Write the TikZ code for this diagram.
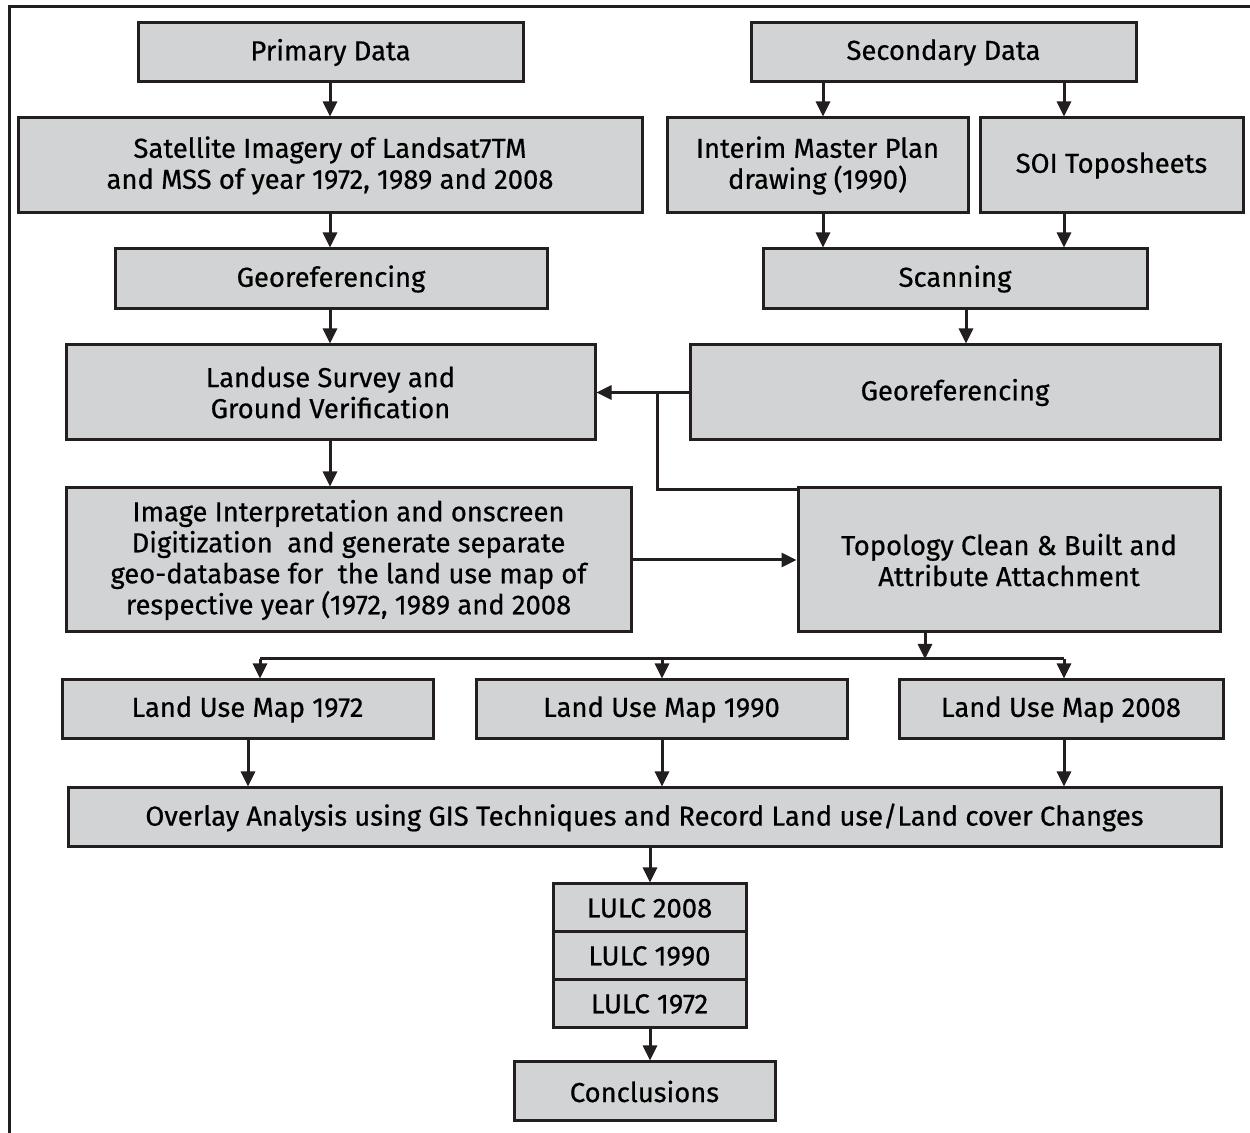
\documentclass[tikz,border=0pt]{standalone}
\usepackage{fontspec}
\setmainfont{Fira Sans}
\newfontfamily\boxfont[FakeBold=0.6]{Fira Sans}
\usetikzlibrary{arrows.meta}
\definecolor{boxgray}{RGB}{209,211,212}
\definecolor{inkblack}{RGB}{35,31,32}
\tikzset{
  box/.style={draw=inkblack, fill=boxgray, line width=1.5pt, inner sep=0pt,
    align=center, font=\boxfont\fontsize{13.7}{15.5}\selectfont},
  bw/.style={minimum width=#1*0.5pt},
  bh/.style={minimum height=#1*0.5pt},
  arr/.style={draw=inkblack, line width=1.5pt, -{Triangle[length=7.5pt,width=7pt]}},
  link/.style={draw=inkblack, line width=1.5pt}
}
\begin{document}
\begin{tikzpicture}[x=0.5pt,y=-0.5pt]
	\useasboundingbox (0,0) rectangle (1250,1133);
	% frame
	\draw[link] (9,1133) -- (9,7) -- (1250,7);
	% data sources
	\node[box, bw=385, bh=59] (prim) at (330.5,52.5) {Primary Data};
	\node[box, bw=385, bh=59] (sec) at (943.5,52.5) {Secondary Data};
	\node[box, bw=624, bh=95] (sat) at (330,165.5) {Satellite Imagery of Landsat7TM\\and MSS of year 1972, 1989 and 2008};
	\node[box, bw=301, bh=95] (imp) at (817.5,165.5) {Interim Master Plan\\drawing (1990)};
	\node[box, bw=263, bh=95] (soi) at (1111.5,165.5) {SOI Toposheets};
	\node[box, bw=432, bh=60] (geol) at (331,279) {Georeferencing};
	\node[box, bw=384, bh=60] (scan) at (955,279) {Scanning};
	\node[box, bw=529, bh=95] (survey) at (330.5,392.5) {Landuse Survey and\\Ground Verification};
	\node[box, bw=530, bh=95] (geor) at (955,392.5) {Georeferencing};
	\node[box, bw=565, bh=144] (interp) at (348.5,560) {Image Interpretation and onscreen\\Digitization\ \ and generate separate\\geo-database for\ \ the land use map of\\respective year (1972, 1989 and 2008};
	\node[box, bw=422, bh=144] (topo) at (1009,560) {Topology Clean \& Built and\\Attribute Attachment};
	% maps
	\node[box, bw=371, bh=59] (mapA) at (247.5,709.5) {Land Use Map 1972};
	\node[box, bw=371, bh=59] (mapB) at (661.5,709.5) {Land Use Map 1990};
	\node[box, bw=324, bh=59] (mapC) at (1061,709.5) {Land Use Map 2008};
	\node[box, bw=1153, bh=59] (overlay) at (644.5,817.5) {Overlay Analysis using GIS Techniques and Record Land use/Land cover Changes};
	\node[box, bw=193, bh=48] (lulcA) at (649.5,908) {LULC 2008};
	\node[box, bw=193, bh=48] (lulcB) at (649.5,956) {LULC 1990};
	\node[box, bw=193, bh=48] (lulcC) at (649.5,1004) {LULC 1972};
	\node[box, bw=261, bh=59] (concl) at (644.5,1091.5) {Conclusions};
	% helper columns
	\coordinate (xa) at (823,0);
	\coordinate (xb) at (1064,0);
	\coordinate (xc) at (966,0);
	\coordinate (xd) at (657,0);
	\coordinate (xe) at (925,0);
	\coordinate (xf) at (260,0);
	\coordinate (xg) at (662,0);
	\coordinate (xh) at (248,0);
	\coordinate (xi) at (650,0);
	\coordinate (bus) at (0,659);
	% connectors
	\draw[arr] (prim.south -| sat.north) -- (sat.north);
	\draw[arr] (sec.south -| xa) -- (imp.north -| xa);
	\draw[arr] (sec.south -| xb) -- (soi.north -| xb);
	\draw[arr] (sat.south) -- (sat.south |- geol.north);
	\draw[arr] (imp.south -| xa) -- (scan.north -| xa);
	\draw[arr] (soi.south -| xb) -- (scan.north -| xb);
	\draw[arr] (geol.south -| sat.south) -- (survey.north -| sat.south);
	\draw[arr] (scan.south -| xc) -- (geor.north -| xc);
	\draw[arr] (geor.west) -- (survey.east);
	\draw[link] (geor.west -| xd) |- ([yshift=-1.5pt]topo.north west);
	\draw[arr] (survey.south -| sat.south) -- (interp.north -| sat.south);
	\draw[arr] (interp.east) -- (topo.west);
	\draw[arr] (topo.south -| xe) -- (bus -| xe);
	\draw[link] (bus -| xf) -- (bus -| xb);
	\draw[arr] (bus -| xf) -- (mapA.north -| xf);
	\draw[arr] (bus -| xg) -- (mapB.north -| xg);
	\draw[arr] (bus -| xb) -- (mapC.north -| xb);
	\draw[arr] (mapA.south -| xh) -- (overlay.north -| xh);
	\draw[arr] (mapB.south -| xg) -- (overlay.north -| xg);
	\draw[arr] (mapC.south -| xb) -- (overlay.north -| xb);
	\draw[arr] (overlay.south -| xi) -- (lulcA.north -| xi);
	\draw[arr] (lulcC.south -| xi) -- (concl.north -| xi);
\end{tikzpicture}
\end{document}
